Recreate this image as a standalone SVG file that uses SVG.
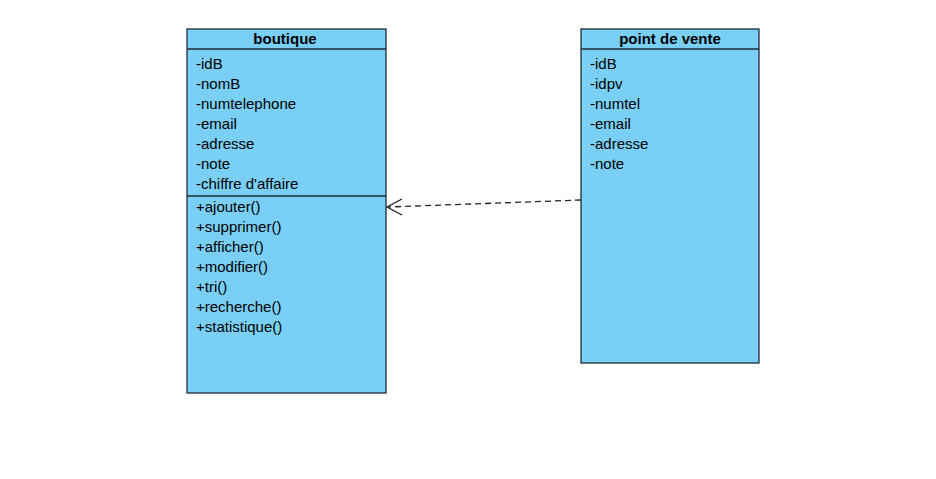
<svg xmlns="http://www.w3.org/2000/svg" width="936" height="479" viewBox="0 0 936 479">
<style>
.box{fill:#79cff5;stroke:#1e2b38;stroke-width:1.3}
.ln{stroke:#1e2b38;stroke-width:1.3}
.t{font-family:"Liberation Sans",Arial,sans-serif;font-size:15px;fill:#000}
.h{font-family:"Liberation Sans",Arial,sans-serif;font-size:15px;font-weight:bold;fill:#000;text-anchor:middle}
.c{fill:none;stroke:#222;stroke-width:1.3}
</style>
<rect width="936" height="479" fill="#fff"/>
<g id="boutique">
<rect class="box" x="187" y="29" width="199" height="364"/>
<line class="ln" x1="187" y1="49" x2="386" y2="49"/>
<line class="ln" x1="187" y1="196" x2="386" y2="196"/>
<text class="h" x="285" y="44">boutique</text>
<text class="t" x="196" y="69">-idB</text>
<text class="t" x="196" y="89">-nomB</text>
<text class="t" x="196" y="109">-numtelephone</text>
<text class="t" x="196" y="129">-email</text>
<text class="t" x="196" y="149">-adresse</text>
<text class="t" x="196" y="169">-note</text>
<text class="t" x="196" y="189">-chiffre d'affaire</text>
<text class="t" x="196" y="212">+ajouter()</text>
<text class="t" x="196" y="232">+supprimer()</text>
<text class="t" x="196" y="252">+afficher()</text>
<text class="t" x="196" y="272">+modifier()</text>
<text class="t" x="196" y="292">+tri()</text>
<text class="t" x="196" y="312">+recherche()</text>
<text class="t" x="196" y="332">+statistique()</text>
</g>
<g id="point_de_vente">
<rect class="box" x="581" y="29" width="178" height="334"/>
<line class="ln" x1="581" y1="49" x2="759" y2="49"/>
<text class="h" x="670" y="44">point de vente</text>
<text class="t" x="590" y="69">-idB</text>
<text class="t" x="590" y="89">-idpv</text>
<text class="t" x="590" y="109">-numtel</text>
<text class="t" x="590" y="129">-email</text>
<text class="t" x="590" y="149">-adresse</text>
<text class="t" x="590" y="169">-note</text>
</g>
<g id="connectors">
<path class="c" d="M581,200 L388,207" stroke-dasharray="6,4"/>
<path class="c" d="M402,199 L387,207 L402,215"/>
</g>
</svg>
